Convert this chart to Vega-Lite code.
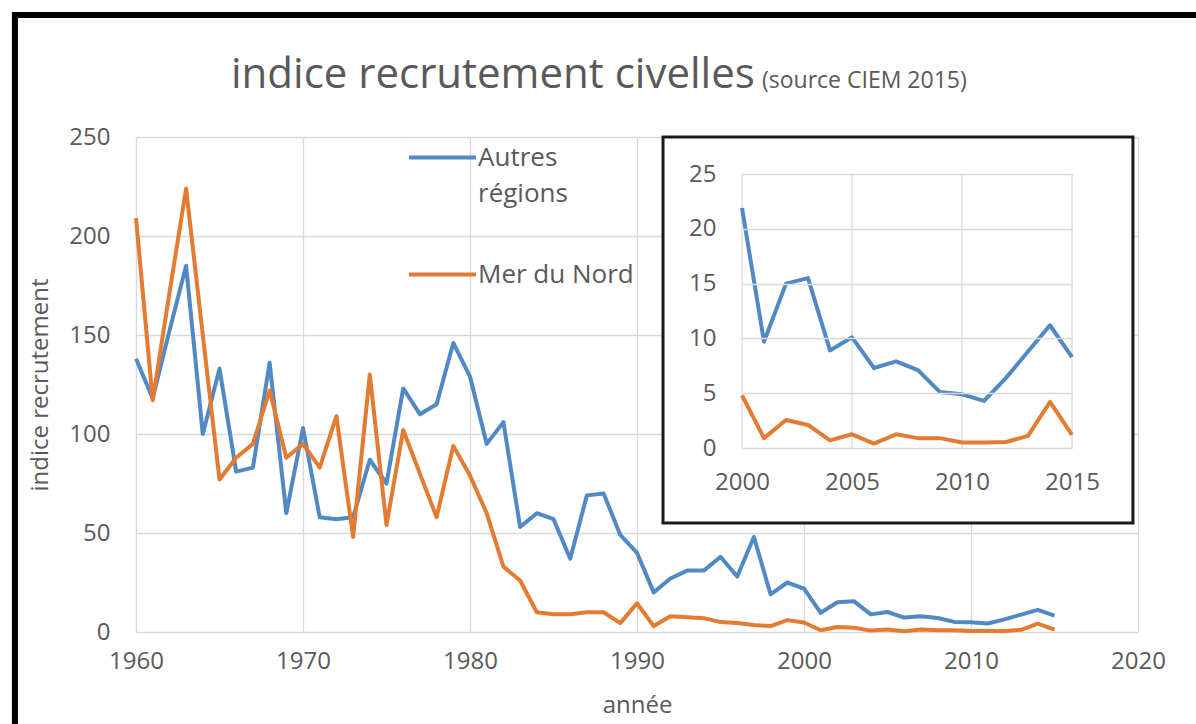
{
  "$schema": "https://vega.github.io/schema/vega-lite/v6.json",
  "width": 1002,
  "height": 495,
  "autosize": {"type": "none"},
  "padding": {"left": 136, "top": 137, "right": 58, "bottom": 92},
  "background": "white",
  "config": {
    "font": "Open Sans",
    "view": {"stroke": null},
    "style": {"guide-label": {"lineHeight": 36}},
    "axis": {
      "domain": false,
      "ticks": false,
      "labelFlush": false,
      "gridColor": "#d9d9d9",
      "gridWidth": 1.3,
      "labelColor": "#595959",
      "labelFont": "Open Sans",
      "titleFont": "Open Sans",
      "titleColor": "#595959",
      "titleFontWeight": "normal"
    },
    "legend": {"padding": 0}
  },
  "title": {
    "text": "indice recrutement civelles",
    "subtitle": "(source CIEM 2015)",
    "anchor": "start",
    "frame": "group",
    "dx": 95,
    "offset": -85,
    "font": "Open Sans",
    "fontSize": 42,
    "fontWeight": "normal",
    "color": "#595959",
    "subtitleFont": "Open Sans",
    "subtitleFontSize": 23,
    "subtitleColor": "#595959",
    "subtitlePadding": -27,
    "encode": {"subtitle": {"update": {"dx": {"value": 626}}}}
  },
  "data": {
    "values": [
      {"year": 1960, "series": "Autres régions", "value": 138},
      {"year": 1961, "series": "Autres régions", "value": 118},
      {"year": 1962, "series": "Autres régions", "value": 152},
      {"year": 1963, "series": "Autres régions", "value": 185},
      {"year": 1964, "series": "Autres régions", "value": 100},
      {"year": 1965, "series": "Autres régions", "value": 133},
      {"year": 1966, "series": "Autres régions", "value": 81},
      {"year": 1967, "series": "Autres régions", "value": 83},
      {"year": 1968, "series": "Autres régions", "value": 136},
      {"year": 1969, "series": "Autres régions", "value": 60},
      {"year": 1970, "series": "Autres régions", "value": 103},
      {"year": 1971, "series": "Autres régions", "value": 58},
      {"year": 1972, "series": "Autres régions", "value": 57},
      {"year": 1973, "series": "Autres régions", "value": 58},
      {"year": 1974, "series": "Autres régions", "value": 87},
      {"year": 1975, "series": "Autres régions", "value": 75},
      {"year": 1976, "series": "Autres régions", "value": 123},
      {"year": 1977, "series": "Autres régions", "value": 110},
      {"year": 1978, "series": "Autres régions", "value": 115},
      {"year": 1979, "series": "Autres régions", "value": 146},
      {"year": 1980, "series": "Autres régions", "value": 129},
      {"year": 1981, "series": "Autres régions", "value": 95},
      {"year": 1982, "series": "Autres régions", "value": 106},
      {"year": 1983, "series": "Autres régions", "value": 53},
      {"year": 1984, "series": "Autres régions", "value": 60},
      {"year": 1985, "series": "Autres régions", "value": 57},
      {"year": 1986, "series": "Autres régions", "value": 37},
      {"year": 1987, "series": "Autres régions", "value": 69},
      {"year": 1988, "series": "Autres régions", "value": 70},
      {"year": 1989, "series": "Autres régions", "value": 49},
      {"year": 1990, "series": "Autres régions", "value": 40},
      {"year": 1991, "series": "Autres régions", "value": 20},
      {"year": 1992, "series": "Autres régions", "value": 27},
      {"year": 1993, "series": "Autres régions", "value": 31},
      {"year": 1994, "series": "Autres régions", "value": 31},
      {"year": 1995, "series": "Autres régions", "value": 38},
      {"year": 1996, "series": "Autres régions", "value": 28},
      {"year": 1997, "series": "Autres régions", "value": 48},
      {"year": 1998, "series": "Autres régions", "value": 19},
      {"year": 1999, "series": "Autres régions", "value": 25},
      {"year": 2000, "series": "Autres régions", "value": 21.9},
      {"year": 2001, "series": "Autres régions", "value": 9.7},
      {"year": 2002, "series": "Autres régions", "value": 15.0},
      {"year": 2003, "series": "Autres régions", "value": 15.5},
      {"year": 2004, "series": "Autres régions", "value": 8.9},
      {"year": 2005, "series": "Autres régions", "value": 10.1},
      {"year": 2006, "series": "Autres régions", "value": 7.3},
      {"year": 2007, "series": "Autres régions", "value": 7.9},
      {"year": 2008, "series": "Autres régions", "value": 7.1},
      {"year": 2009, "series": "Autres régions", "value": 5.1},
      {"year": 2010, "series": "Autres régions", "value": 4.9},
      {"year": 2011, "series": "Autres régions", "value": 4.3},
      {"year": 2012, "series": "Autres régions", "value": 6.4},
      {"year": 2013, "series": "Autres régions", "value": 8.8},
      {"year": 2014, "series": "Autres régions", "value": 11.2},
      {"year": 2015, "series": "Autres régions", "value": 8.3},
      {"year": 1960, "series": "Mer du Nord", "value": 209},
      {"year": 1961, "series": "Mer du Nord", "value": 117},
      {"year": 1962, "series": "Mer du Nord", "value": 171},
      {"year": 1963, "series": "Mer du Nord", "value": 224},
      {"year": 1964, "series": "Mer du Nord", "value": 150},
      {"year": 1965, "series": "Mer du Nord", "value": 77},
      {"year": 1966, "series": "Mer du Nord", "value": 88},
      {"year": 1967, "series": "Mer du Nord", "value": 95},
      {"year": 1968, "series": "Mer du Nord", "value": 122},
      {"year": 1969, "series": "Mer du Nord", "value": 88},
      {"year": 1970, "series": "Mer du Nord", "value": 95},
      {"year": 1971, "series": "Mer du Nord", "value": 83},
      {"year": 1972, "series": "Mer du Nord", "value": 109},
      {"year": 1973, "series": "Mer du Nord", "value": 48},
      {"year": 1974, "series": "Mer du Nord", "value": 130},
      {"year": 1975, "series": "Mer du Nord", "value": 54},
      {"year": 1976, "series": "Mer du Nord", "value": 102},
      {"year": 1977, "series": "Mer du Nord", "value": 80},
      {"year": 1978, "series": "Mer du Nord", "value": 58},
      {"year": 1979, "series": "Mer du Nord", "value": 94},
      {"year": 1980, "series": "Mer du Nord", "value": 79},
      {"year": 1981, "series": "Mer du Nord", "value": 60},
      {"year": 1982, "series": "Mer du Nord", "value": 33},
      {"year": 1983, "series": "Mer du Nord", "value": 26},
      {"year": 1984, "series": "Mer du Nord", "value": 10},
      {"year": 1985, "series": "Mer du Nord", "value": 9},
      {"year": 1986, "series": "Mer du Nord", "value": 9},
      {"year": 1987, "series": "Mer du Nord", "value": 10},
      {"year": 1988, "series": "Mer du Nord", "value": 10},
      {"year": 1989, "series": "Mer du Nord", "value": 4.5},
      {"year": 1990, "series": "Mer du Nord", "value": 14.5},
      {"year": 1991, "series": "Mer du Nord", "value": 3},
      {"year": 1992, "series": "Mer du Nord", "value": 8},
      {"year": 1993, "series": "Mer du Nord", "value": 7.5},
      {"year": 1994, "series": "Mer du Nord", "value": 7},
      {"year": 1995, "series": "Mer du Nord", "value": 5},
      {"year": 1996, "series": "Mer du Nord", "value": 4.5},
      {"year": 1997, "series": "Mer du Nord", "value": 3.5},
      {"year": 1998, "series": "Mer du Nord", "value": 3},
      {"year": 1999, "series": "Mer du Nord", "value": 6},
      {"year": 2000, "series": "Mer du Nord", "value": 4.8},
      {"year": 2001, "series": "Mer du Nord", "value": 0.9},
      {"year": 2002, "series": "Mer du Nord", "value": 2.55},
      {"year": 2003, "series": "Mer du Nord", "value": 2.1},
      {"year": 2004, "series": "Mer du Nord", "value": 0.7},
      {"year": 2005, "series": "Mer du Nord", "value": 1.25},
      {"year": 2006, "series": "Mer du Nord", "value": 0.4},
      {"year": 2007, "series": "Mer du Nord", "value": 1.25},
      {"year": 2008, "series": "Mer du Nord", "value": 0.9},
      {"year": 2009, "series": "Mer du Nord", "value": 0.9},
      {"year": 2010, "series": "Mer du Nord", "value": 0.5},
      {"year": 2011, "series": "Mer du Nord", "value": 0.5},
      {"year": 2012, "series": "Mer du Nord", "value": 0.55},
      {"year": 2013, "series": "Mer du Nord", "value": 1.1},
      {"year": 2014, "series": "Mer du Nord", "value": 4.2},
      {"year": 2015, "series": "Mer du Nord", "value": 1.2}
    ]
  },
  "layer": [
    {
      "layer": [
        {
          "mark": {"type": "line", "strokeWidth": 4, "strokeJoin": "round"},
          "encoding": {
            "x": {
              "field": "year",
              "type": "quantitative",
              "scale": {"domain": [1960, 2020], "nice": false, "zero": false},
              "axis": {
                "values": [1960, 1970, 1980, 1990, 2000, 2010, 2020],
                "format": "d",
                "title": "année",
                "grid": true,
                "labelFontSize": 24,
                "labelPadding": 17,
                "titleFontSize": 24,
                "titlePadding": 20
              }
            },
            "y": {
              "field": "value",
              "type": "quantitative",
              "scale": {"domain": [0, 250], "nice": false},
              "axis": {
                "values": [0, 50, 100, 150, 200, 250],
                "title": "indice recrutement",
                "grid": true,
                "labelFontSize": 24,
                "labelPadding": 26,
                "titleFontSize": 24,
                "titlePadding": 16
              }
            },
            "color": {
              "field": "series",
              "type": "nominal",
              "scale": {"domain": ["Autres régions", "Mer du Nord"], "range": ["#5189c4", "#e37b33"]},
              "legend": {
                "orient": "none",
                "legendX": 271,
                "legendY": -15,
                "direction": "vertical",
                "title": null,
                "symbolType": "stroke",
                "symbolSize": 4489,
                "symbolStrokeWidth": 4,
                "labelFont": "Open Sans",
                "labelFontSize": 26,
                "labelColor": "#595959",
                "labelOffset": 0,
                "labelBaseline": "middle",
                "rowPadding": 32,
                "labelExpr": "datum.label == 'Autres régions' ? ['Autres', 'régions'] : datum.label"
              }
            }
          }
        },
        {
          "transform": [{"aggregate": [{"op": "count", "as": "n"}]}],
          "mark": {"type": "rect", "fill": "white", "fillOpacity": 0, "stroke": "black", "strokeWidth": 6},
          "encoding": {
            "x": {"datum": 1952.75, "type": "quantitative"},
            "x2": {"datum": 2025},
            "y": {"datum": -60, "type": "quantitative"},
            "y2": {"datum": 311.6}
          }
        }
      ]
    },
    {
      "transform": [{"filter": "datum.year >= 2000"}],
      "layer": [
        {
          "transform": [{"aggregate": [{"op": "count", "as": "n"}]}],
          "mark": {"type": "rect", "fill": "white", "stroke": "#1a1a1a", "strokeWidth": 3},
          "encoding": {
            "x": {"datum": 1996.41, "type": "quantitative"},
            "x2": {"datum": 2017.77},
            "y": {"datum": -6.84, "type": "quantitative"},
            "y2": {"datum": 28.38}
          }
        },
        {
          "transform": [
            {"filter": {"field": "year", "oneOf": [2000, 2005, 2010, 2015]}},
            {"filter": {"field": "series", "equal": "Mer du Nord"}}
          ],
          "mark": {"type": "rule", "color": "#d9d9d9", "strokeWidth": 1.3},
          "encoding": {
            "x": {"field": "year", "type": "quantitative"},
            "y": {"datum": 0, "type": "quantitative"},
            "y2": {"datum": 25}
          }
        },
        {
          "mark": {"type": "line", "strokeWidth": 4, "strokeJoin": "round"},
          "encoding": {
            "x": {
              "field": "year",
              "type": "quantitative",
              "scale": {"domain": [2000, 2015], "range": [606, 936], "nice": false, "zero": false},
              "axis": {
                "orient": "bottom",
                "offset": -184,
                "values": [2000, 2005, 2010, 2015],
                "format": "d",
                "title": null,
                "grid": false,
                "labelFontSize": 24,
                "labelPadding": 22,
                "zindex": 1
              }
            },
            "y": {
              "field": "value",
              "type": "quantitative",
              "scale": {"domain": [0, 25], "range": [311, 37], "nice": false, "zero": false},
              "axis": {
                "orient": "left",
                "offset": -606,
                "values": [0, 5, 10, 15, 20, 25],
                "title": null,
                "grid": true,
                "labelFontSize": 24,
                "labelPadding": 26,
                "zindex": 1
              }
            },
            "color": {"field": "series", "type": "nominal"}
          }
        }
      ]
    }
  ],
  "resolve": {"scale": {"x": "independent", "y": "independent"}}
}
